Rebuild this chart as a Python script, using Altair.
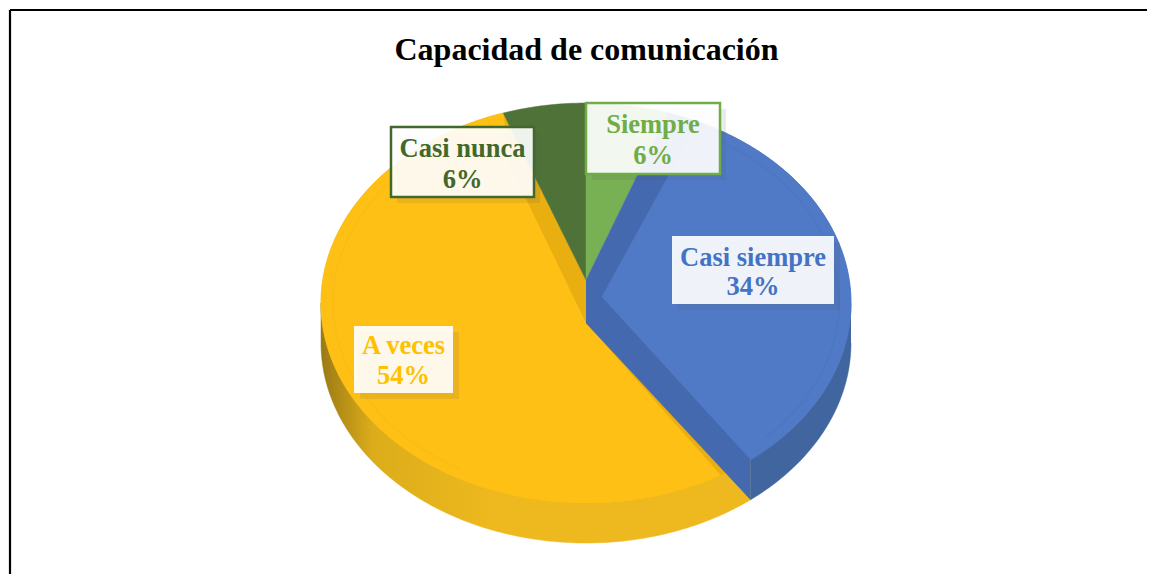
import math
import altair as alt
import pandas as pd

# ---- chart values ----
categories = ["Siempre", "Casi siempre", "A veces", "Casi nunca"]
values = [6, 34, 54, 6]
# slice boundaries as they appear after the picture's 3-D tilt (degrees clockwise from top)
view_angles = [0, 18, 141.6, 341.8, 360]
title_text = "Capacidad de comunicación"

GREEN, DARK = "#78B153", "#4F7239"
BLUE_BAND, BLUE_TOP, BLUE_SIDE = "#4569AE", "#507AC6", "#41659F"
GOLD_BAND, GOLD_TOP, GOLD_SIDE = "#E9AE10", "#FFC015", "#EDB91E"

W, H = 1139, 566
CX, CY, RX, RY, DEPTH = 578, 295, 265, 200, 40   # pie centre/radii in chart pixels
D = DEPTH / RY

xs = alt.Scale(domain=[-CX / RX, (W - CX) / RX], range=[0, W], nice=False, zero=False)
ys = alt.Scale(domain=[(H - CY) / RY, -CY / RY], range=[H, 0], nice=False, zero=False)


def rim(start, end, r=1.0):
    n = max(2, int(abs(end - start)))
    return [(r * math.sin(math.radians(start + (end - start) * i / n)),
             -r * math.cos(math.radians(start + (end - start) * i / n))) for i in range(n + 1)]


def frame_of(pts):
    return pd.DataFrame([dict(i=i, x=p[0], y=p[1]) for i, p in enumerate(pts)])


def poly(pts, fill):
    return alt.Chart(frame_of(pts)).mark_line(fill=fill, stroke=fill, strokeWidth=0.5, clip=False).encode(
        x=alt.X("x:Q", scale=xs, axis=None),
        y=alt.Y("y:Q", scale=ys, axis=None),
        order=alt.Order("i:Q"),
    )


def side(start, end):
    r = rim(start, end)
    return r + [(x, y + D) for x, y in reversed(r)]


green_end, blue_end, gold_end = view_angles[1], view_angles[2], view_angles[3]
apex_up = (0.0, -0.115)
apex_down = (0.0, 0.10)
apex_blue = (0.06, -0.03)
corner = rim(blue_end, blue_end)[0]
corner_low = (corner[0], corner[1] + D)

layers = []
# frame
one = pd.DataFrame({"a": [0]})
rule_style = dict(color="black", strokeWidth=2.2)
layers.append(alt.Chart(one).mark_rule(**rule_style).encode(
    x=alt.value(2), x2=alt.value(W), y=alt.value(2)))
layers.append(alt.Chart(one).mark_rule(**rule_style).encode(
    x=alt.value(2), y=alt.value(2), y2=alt.value(H)))

# sides
layers.append(poly(side(90, blue_end), BLUE_SIDE))
gold_grad = alt.Gradient(gradient="linear", x1=0, x2=1, y1=0, y2=0, stops=[
    alt.GradientStop(color="#9A7A14", offset=0),
    alt.GradientStop(color="#DCAC1A", offset=0.12),
    alt.GradientStop(color=GOLD_SIDE, offset=0.4),
    alt.GradientStop(color=GOLD_SIDE, offset=1)])
layers.append(poly(side(blue_end, 270), gold_grad))

# top faces
layers.append(poly([apex_down] + rim(blue_end, gold_end) + [apex_up], GOLD_BAND))
layers.append(poly([apex_down] + rim(149.5, 338), GOLD_TOP))
layers.append(poly(rim(338, gold_end) + [(-0.29, -0.72)], GOLD_TOP))
layers.append(poly([apex_up] + rim(gold_end, 360), DARK))
layers.append(poly([apex_up] + rim(0, green_end), GREEN))
layers.append(poly([apex_up] + rim(green_end, blue_end) + [corner_low, apex_down], BLUE_BAND))
layers.append(poly([apex_blue] + rim(25, blue_end), BLUE_TOP))
layers.append(alt.Chart(frame_of(rim(210, 330, 0.955))).mark_line(color="#000000", opacity=0.025, strokeWidth=1.5).encode(
    x=alt.X("x:Q", scale=xs, axis=None), y=alt.Y("y:Q", scale=ys, axis=None), order=alt.Order("i:Q")))
layers.append(alt.Chart(frame_of(rim(30, 135, 0.955))).mark_line(color="#000000", opacity=0.03, strokeWidth=1.5).encode(
    x=alt.X("x:Q", scale=xs, axis=None), y=alt.Y("y:Q", scale=ys, axis=None), order=alt.Order("i:Q")))

# labels: name, box x0, x1, y0, y1, colour, border, first text row, row gap
boxes = [
    ("Siempre", 578, 712, 95, 166, "#70AD47", "#70AD47", 117, 31),
    ("Casi siempre", 664, 826, 228, 296, "#4472C4", None, 250, 29),
    ("A veces", 346, 445, 318, 385, "#FFC000", None, 338, 30),
    ("Casi nunca", 383, 526, 119, 189, "#43682B", "#43682B", 141, 31),
]
for name, x0, x1, y0, y1, col, border, ytext, gap in boxes:
    v = values[categories.index(name)]
    layers.append(alt.Chart(one).mark_rect(color="#555555", opacity=0.12).encode(
        x=alt.value(x0 + 6), x2=alt.value(x1 + 6), y=alt.value(y0 + 6), y2=alt.value(y1 + 6)))
    kw = dict(stroke=border, strokeWidth=2.5) if border else {}
    layers.append(alt.Chart(one).mark_rect(fill="#FFFFFF", fillOpacity=0.91, **kw).encode(
        x=alt.value(x0), x2=alt.value(x1), y=alt.value(y0), y2=alt.value(y1)))
    tdf = pd.DataFrame({"t": [name, f"{v}%"], "row": [0, 1]})
    for r in (0, 1):
        layers.append(alt.Chart(tdf[tdf.row == r]).mark_text(
            font="Liberation Serif", fontSize=26.5, fontWeight="bold", color=col, align="center", baseline="middle"
        ).encode(text="t:N", x=alt.value((x0 + x1) / 2), y=alt.value(ytext + r * gap)))

chart = alt.layer(*layers).properties(
    width=W, height=H,
    padding=0,
    autosize=alt.AutoSizeParams(type="none"),
    title=alt.TitleParams(title_text, font="Liberation Serif", fontSize=32, fontWeight="bold",
                          color="black", anchor="middle", dx=9, offset=-59),
).configure_view(stroke=None)

chart.save("out.html", embed_options={"renderer": "svg", "actions": False})
